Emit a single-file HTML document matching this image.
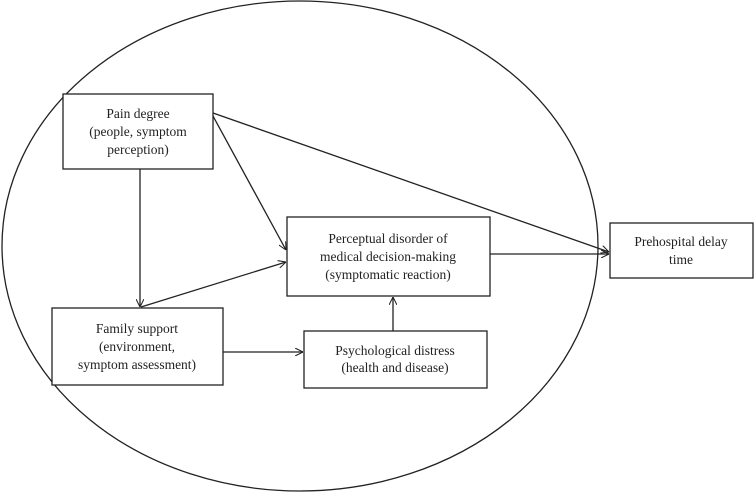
<!DOCTYPE html>
<html><head><style>
body{margin:0;background:#fff}
svg text{font-family:"Liberation Serif",serif;font-size:13.5px;fill:#222;text-anchor:middle}
</style></head><body>
<svg width="754" height="493" viewBox="0 0 754 493" xmlns="http://www.w3.org/2000/svg">
<defs><marker id="a" viewBox="0 0 10 10" refX="10" refY="5" markerWidth="8" markerHeight="8" orient="auto" markerUnits="userSpaceOnUse"><path d="M0,0 L10,5 L0,10" fill="none" stroke="#222" stroke-width="1.3"/></marker></defs>
<g fill="none" stroke="#222" stroke-width="1.3">
<ellipse cx="300" cy="246" rx="298" ry="245"/>
<rect x="63" y="94" width="150" height="75" fill="#fff"/>
<rect x="52" y="308" width="171" height="77" fill="#fff"/>
<rect x="287" y="217" width="203" height="79" fill="#fff"/>
<rect x="304" y="331" width="183" height="57" fill="#fff"/>
<rect x="610" y="223" width="143" height="55" fill="#fff"/>
<line x1="213" y1="113" x2="609" y2="252" marker-end="url(#a)"/>
<line x1="213" y1="116" x2="286" y2="250" marker-end="url(#a)"/>
<line x1="140" y1="169" x2="140" y2="307" marker-end="url(#a)"/>
<line x1="141" y1="307" x2="286" y2="262" marker-end="url(#a)"/>
<line x1="223" y1="352" x2="303" y2="352" marker-end="url(#a)"/>
<line x1="393" y1="331" x2="393" y2="297" marker-end="url(#a)"/>
<line x1="490" y1="254" x2="609" y2="254" marker-end="url(#a)"/>
</g>
<text x="138" y="118">Pain degree</text>
<text x="138" y="136">(people, symptom</text>
<text x="138" y="154">perception)</text>
<text x="137" y="333">Family support</text>
<text x="137" y="351">(environment,</text>
<text x="137" y="369">symptom assessment)</text>
<text x="388" y="243">Perceptual disorder of</text>
<text x="388" y="261">medical decision-making</text>
<text x="388" y="279">(symptomatic reaction)</text>
<text x="395" y="355">Psychological distress</text>
<text x="395" y="372">(health and disease)</text>
<text x="681" y="246">Prehospital delay</text>
<text x="681" y="264">time</text>
</svg>
</body></html>
